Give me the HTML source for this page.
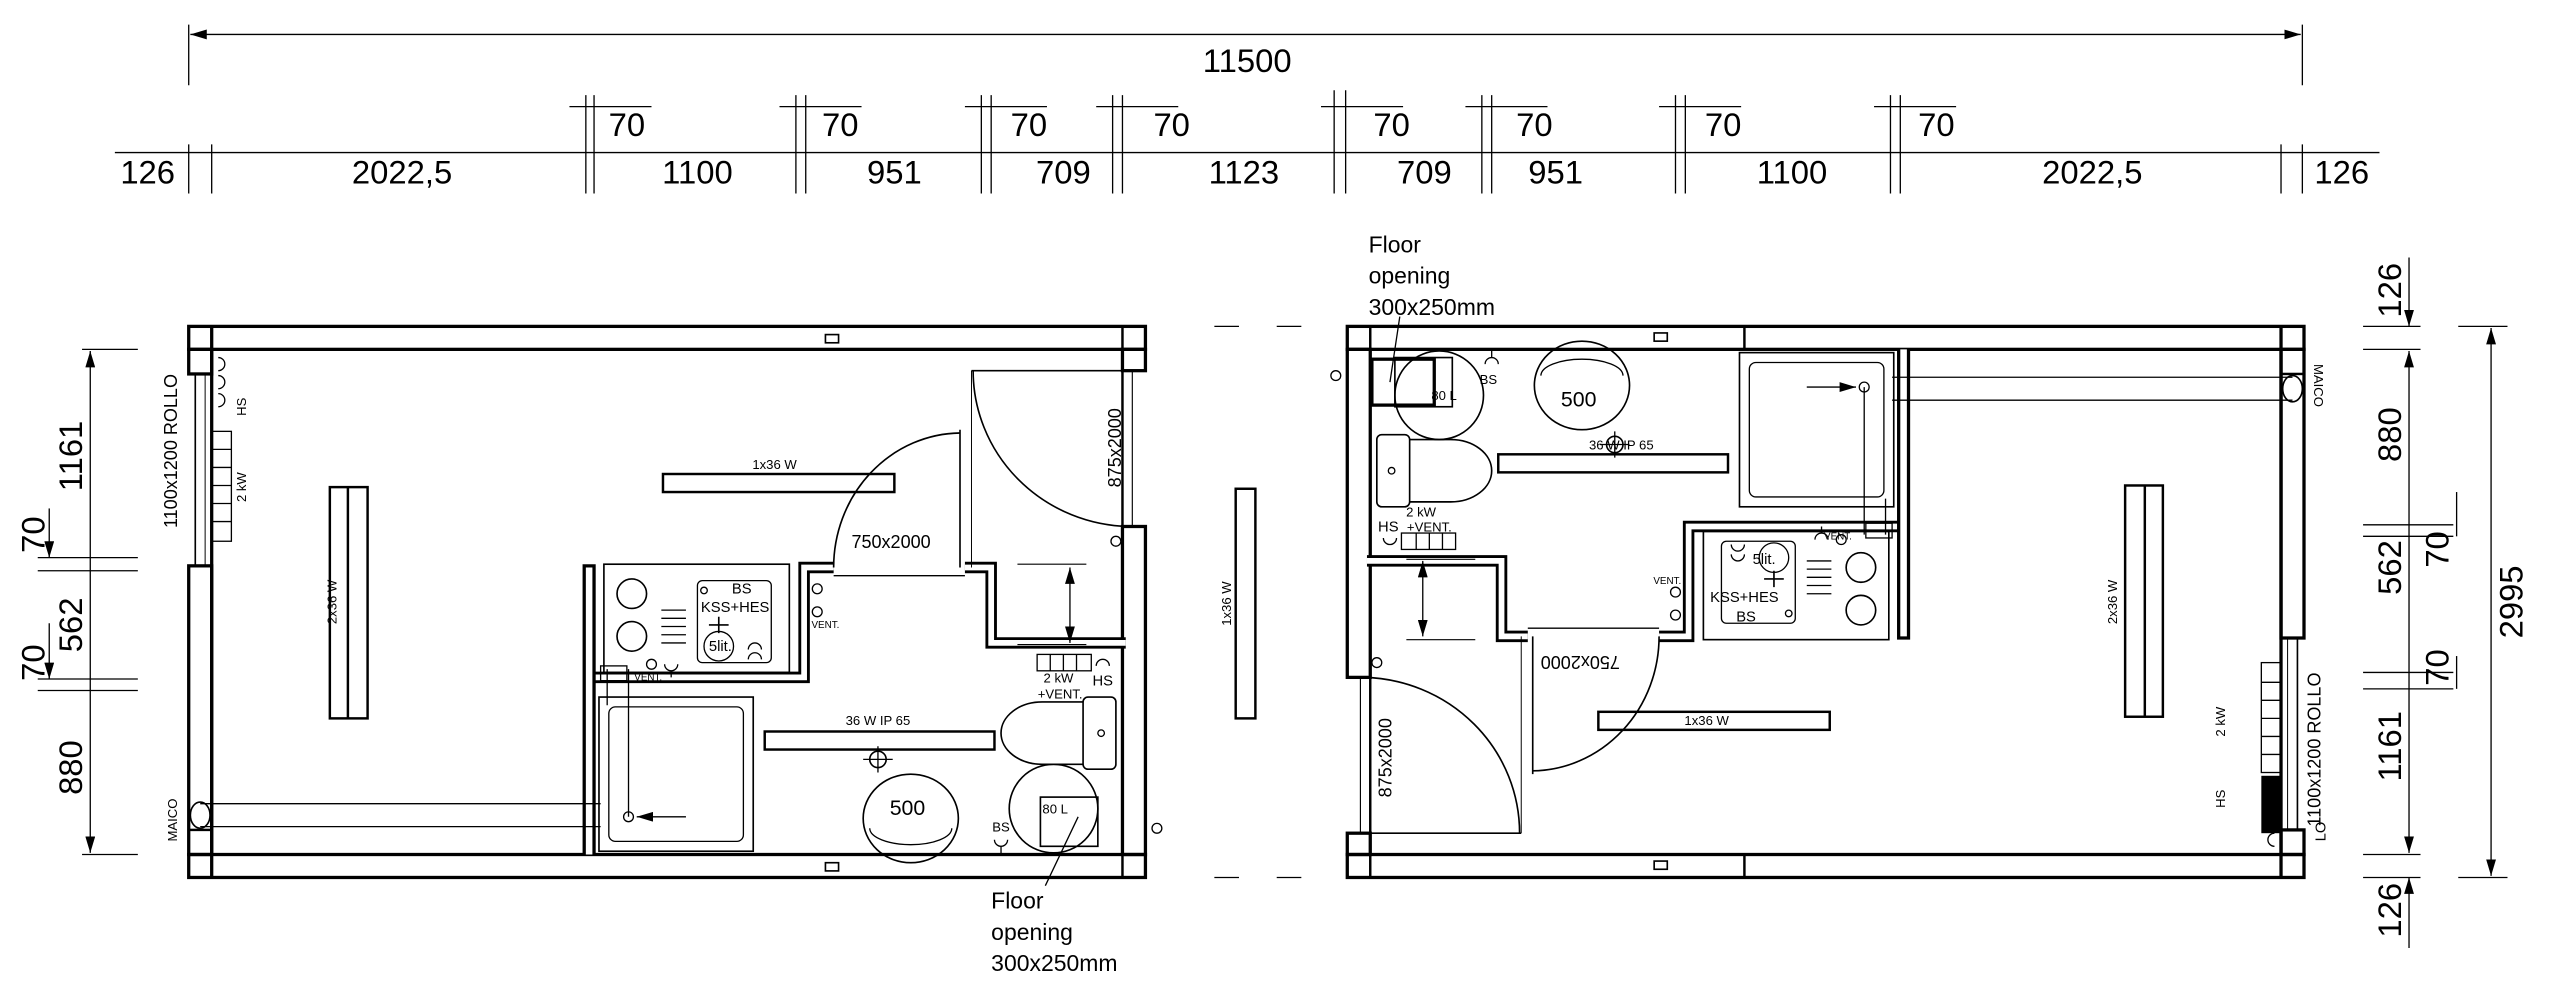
<!DOCTYPE html>
<html><head><meta charset="utf-8"><style>
html,body{margin:0;padding:0;background:#fff}
svg{display:block}
text{font-family:"Liberation Sans",sans-serif;fill:#000}
.d{font-size:20px;font-weight:300}
.s{font-size:8px}
.m{font-size:10px}
</style></head><body>
<svg width="2560" height="989" viewBox="0 0 1560 603" preserveAspectRatio="none" xmlns="http://www.w3.org/2000/svg">
<defs>
<marker id="a" viewBox="0 0 10 6" refX="10" refY="3" markerWidth="10" markerHeight="6" orient="auto-start-reverse" markerUnits="userSpaceOnUse"><path d="M0,0L10,3L0,6z"/></marker>
<g id="B" fill="none" stroke="#000">
 <!-- outer walls -->
 <rect x="115" y="199" width="583" height="14" stroke-width="2" fill="#fff"/>
 <rect x="115" y="521" width="583" height="14" stroke-width="2" fill="#fff"/>
 <rect x="115" y="213" width="14" height="15" stroke-width="2"/>
 <rect x="115" y="506" width="14" height="15" stroke-width="1.5"/>
 <line x1="129" y1="199" x2="129" y2="535" stroke-width="2"/>
 <line x1="684" y1="199" x2="684" y2="535" stroke-width="1.5"/>
 <rect x="115" y="345" width="14" height="176" stroke-width="2"/>
 <line x1="119" y1="228" x2="119" y2="345"/><line x1="125" y1="228" x2="125" y2="345" stroke-width="0.6"/>
 <rect x="684" y="213" width="14" height="13" stroke-width="2"/>
 <rect x="684" y="321" width="14" height="200" stroke-width="2"/>
 <line x1="690" y1="226" x2="690" y2="321" stroke-width="0.7"/>
 <rect x="503" y="204" width="8" height="5" stroke-width="1"/>
 <rect x="503" y="526" width="8" height="5" stroke-width="1"/>
 <!-- interior walls -->
 <polyline points="359,521 359,344" stroke-width="8"/><polyline points="359,521 359,346" stroke="#fff" stroke-width="4"/>
 <polyline points="362,413 490,413 490,346 508,346" stroke-width="7"/>
 <polyline points="363,413 490,413 490,346 508,346" stroke="#fff" stroke-width="3.5"/>
 <polyline points="588,346 604,346 604,392 686,392" stroke-width="7"/>
 <polyline points="588,346 604,346 604,392 686,392" stroke="#fff" stroke-width="3.5"/>
 <line x1="508" y1="351" x2="588" y2="351" stroke-width="0.8"/>
 <!-- doors -->
 <line x1="585" y1="262" x2="585" y2="346" stroke-width="1"/>
 <path d="M585,264 A78,82 0 0 0 508,346" stroke-width="1"/>
 <line x1="592" y1="226" x2="690" y2="226" stroke-width="1"/>
 <line x1="592" y1="226" x2="592" y2="346" stroke-width="0.6"/>
 <path d="M593,226 A97,95 0 0 0 688,321" stroke-width="1"/>
 <!-- kitchen -->
 <rect x="368" y="344" width="113" height="66" stroke-width="1"/>
 <circle cx="385" cy="362" r="9"/><circle cx="385" cy="388" r="9"/>
 <path d="M403,372h15M403,377h15M403,382h15M403,387h15M403,392h15" stroke-width="0.8"/>
 <rect x="425" y="354" width="45" height="50" rx="3" stroke-width="0.8"/>
 <circle cx="438" cy="394" r="9" stroke-width="0.8"/>
 <path d="M432,381h12M438,376v10"/>
 <circle cx="429" cy="360" r="2" stroke-width="0.8"/>
 <path d="M456,396 a4,4 0 0 1 8,0 M456,402 a4,4 0 0 1 8,0" stroke-width="0.8"/>
 <path d="M405,405 a4,4 0 0 0 8,0 M409,409 v4" stroke-width="0.8"/>
 <circle cx="397" cy="405" r="3" stroke-width="0.8"/>
 <circle cx="498" cy="359" r="3" stroke-width="0.8"/><circle cx="498" cy="373" r="3" stroke-width="0.8"/>
 <!-- lights -->
 <rect x="404" y="289" width="141" height="11" stroke-width="1.5"/>
 <rect x="201" y="297" width="23" height="141" stroke-width="1.5"/><line x1="212" y1="297" x2="212" y2="438" stroke-width="1.5"/>
 <rect x="466" y="446" width="140" height="11" stroke-width="1.5"/>
 <circle cx="535" cy="463" r="5"/><path d="M526,463h18M535,455v16" stroke-width="0.8"/>
 <!-- bathroom -->
 <rect x="365" y="425" width="94" height="94" stroke-width="1"/>
 <rect x="371" y="431" width="82" height="82" rx="4" stroke-width="0.8"/>
 <path d="M122,490H366M122,504H366" stroke-width="0.8"/>
 <ellipse cx="122" cy="497" rx="6" ry="8" stroke-width="1"/>
 <rect x="366" y="406" width="16" height="9" stroke-width="0.8"/>
 <path d="M383,408V498M370,408V430" stroke-width="0.8"/>
 <circle cx="383" cy="498" r="3" stroke-width="0.8"/>
 <line x1="418" y1="498" x2="388" y2="498" stroke-width="0.8" marker-end="url(#a)"/>
 <rect x="660" y="425" width="20" height="44" rx="3" stroke-width="1"/>
 <circle cx="671" cy="447" r="2" stroke-width="0.8"/>
 <path d="M660,428 H635 A25,19 0 0 0 635,466 H660" stroke-width="1"/>
 <ellipse cx="555" cy="499" rx="29" ry="27" stroke-width="1"/>
 <path d="M530,505 A25,10 0 0 0 580,505" stroke-width="0.8"/>
 <circle cx="642" cy="493" r="27" stroke-width="1"/>
 <rect x="634" y="486" width="35" height="30" stroke-width="1"/>
 <path d="M606,512 a4,4 0 0 0 8,0 M610,516 v5" stroke-width="0.8"/>
 <rect x="632" y="399" width="33" height="10" stroke-width="0.8"/><path d="M640,399v10M648,399v10M656,399v10" stroke-width="0.8"/>
 <path d="M668,406 a4,4 0 0 1 8,0" stroke-width="0.8"/>
 <circle cx="680" cy="330" r="3" stroke-width="0.8"/><circle cx="705" cy="505" r="3" stroke-width="0.8"/>
 <!-- left wall items -->
 <path d="M133,218a4,4 0 0 1 0,8M133,229a4,4 0 0 1 0,8M133,240a4,4 0 0 1 0,8" stroke-width="0.8"/>
 <rect x="129" y="263" width="12" height="67" stroke-width="0.8"/>
 <path d="M129,274h12M129,285h12M129,296h12M129,307h12M129,318h12" stroke-width="0.8"/>
 <!-- 412 dim -->
 <path d="M620,344H662M620,393H662" stroke-width="0.7"/>
 <line x1="652" y1="346" x2="652" y2="392" stroke-width="0.8" marker-start="url(#a)" marker-end="url(#a)"/>
</g>
</defs>

<use href="#B"/>
<use href="#B" transform="matrix(-1 0 0 -1 1519 734)"/>
<!-- right building top wall split + window block -->
<line x1="1063" y1="199" x2="1063" y2="213" stroke="#000" stroke-width="1.5"/>
<line x1="1063" y1="521" x2="1063" y2="535" stroke="#000" stroke-width="1.5"/>
<rect x="1378" y="473" width="12" height="35" fill="#000"/>
<rect x="836" y="219" width="38" height="28" fill="none" stroke="#000" stroke-width="2"/>

<!-- between-building light -->
<rect x="753" y="298" width="12" height="140" fill="none" stroke="#000" stroke-width="1.5"/>
<!-- dashed ext lines -->
<g stroke="#000" stroke-width="0.8"><path d="M740,199h15M778,199h15M740,535h15M778,535h15"/></g>

<!-- top dimensions -->
<g stroke="#000" stroke-width="0.8" fill="none">
 <line x1="116" y1="21" x2="1402" y2="21" marker-start="url(#a)" marker-end="url(#a)"/>
 <path d="M115,15V52M1403,15V52"/>
 <line x1="70" y1="93" x2="1450" y2="93"/>
 <path d="M115,88V118M129,88V118M357,58V118M362,58V118M485,58V118M491,58V118M598,58V118M604,58V118M678,58V118M684,58V118M813,55V118M820,55V118M903,58V118M909,58V118M1021,58V118M1027,58V118M1152,58V118M1158,58V118M1390,88V118M1403,88V118"/>
 <path d="M347,65H397M475,65H525M588,65H638M668,65H718M805,65H855M893,65H943M1011,65H1061M1142,65H1192"/>
</g>
<g font-size="20" class="d" text-anchor="middle">
 <text x="760" y="44">11500</text>
 <text x="90" y="112">126</text><text x="245" y="112">2022,5</text><text x="425" y="112">1100</text>
 <text x="545" y="112">951</text><text x="648" y="112">709</text><text x="758" y="112">1123</text>
 <text x="868" y="112">709</text><text x="948" y="112">951</text><text x="1092" y="112">1100</text>
 <text x="1275" y="112">2022,5</text><text x="1427" y="112">126</text>
 <text x="382" y="83">70</text><text x="512" y="83">70</text><text x="627" y="83">70</text><text x="714" y="83">70</text>
 <text x="848" y="83">70</text><text x="935" y="83">70</text><text x="1050" y="83">70</text><text x="1180" y="83">70</text>
</g>

<!-- left dims -->
<g stroke="#000" stroke-width="0.8" fill="none">
 <path d="M50,213H84M23,340H84M23,348H84M23,414H84M23,421H84M50,521H84"/>
 <line x1="55" y1="214" x2="55" y2="520" marker-start="url(#a)" marker-end="url(#a)"/>
 <line x1="30" y1="310" x2="30" y2="340" marker-end="url(#a)"/><line x1="30" y1="380" x2="30" y2="414" marker-end="url(#a)"/>
</g>
<g class="d" text-anchor="middle">
 <text transform="translate(50,278) rotate(-90)">1161</text>
 <text transform="translate(27,326) rotate(-90)">70</text>
 <text transform="translate(50,381) rotate(-90)">562</text>
 <text transform="translate(27,404) rotate(-90)">70</text>
 <text transform="translate(50,468) rotate(-90)">880</text>
</g>
<!-- right dims -->
<g stroke="#000" stroke-width="0.8" fill="none">
 <path d="M1440,199H1475M1440,213H1475M1440,320H1495M1440,327H1495M1440,410H1495M1440,420H1495M1440,521H1475M1440,535H1475M1498,199H1528M1498,535H1528"/>
 <line x1="1468" y1="157" x2="1468" y2="199" marker-end="url(#a)"/>
 <line x1="1468" y1="214" x2="1468" y2="520" marker-start="url(#a)" marker-end="url(#a)"/>
 <line x1="1468" y1="578" x2="1468" y2="535" marker-end="url(#a)"/>
 <line x1="1518" y1="200" x2="1518" y2="534" marker-start="url(#a)" marker-end="url(#a)"/>
 <line x1="1497" y1="300" x2="1497" y2="327"/><line x1="1497" y1="400" x2="1497" y2="420"/>
</g>
<g class="d" text-anchor="middle">
 <text transform="translate(1463,177) rotate(-90)">126</text>
 <text transform="translate(1463,265) rotate(-90)">880</text>
 <text transform="translate(1463,346) rotate(-90)">562</text>
 <text transform="translate(1492,335) rotate(-90)">70</text>
 <text transform="translate(1492,407) rotate(-90)">70</text>
 <text transform="translate(1463,455) rotate(-90)">1161</text>
 <text transform="translate(1463,555) rotate(-90)">126</text>
 <text transform="translate(1537,367) rotate(-90)">2995</text>
</g>

<!-- left labels -->
<g class="s" text-anchor="middle">
 <text x="472" y="286">1x36 W</text>
 <text transform="translate(205,367) rotate(-90)">2x36 W</text>
 <text transform="translate(750,368) rotate(-90)">1x36 W</text>
 <text transform="translate(150,297) rotate(-90)">2 kW</text>
 <text transform="translate(150,248) rotate(-90)">HS</text>
 <text transform="translate(108,500) rotate(-90)">MAICO</text>
 <text x="535" y="442">36 W IP 65</text>
 <text x="645" y="416">2 kW</text><text x="646" y="426">+VENT.</text>
 <text x="672" y="418" font-size="9">HS</text>
 <text x="610" y="507">BS</text>
 <text x="503" y="383" font-size="6">VENT.</text>
 <text x="395" y="415" font-size="6">VENT.</text>
 <text x="452" y="362" font-size="9">BS</text>
 <text x="448" y="373" font-size="9">KSS+HES</text>
 <text x="439" y="397" font-size="9">5lit.</text>
 <text x="643" y="496">80 L</text>
</g>
<text x="553" y="497" font-size="13" text-anchor="middle">500</text>
<text x="543" y="334" font-size="11" text-anchor="middle">750x2000</text>
<text transform="translate(683,273) rotate(-90)" font-size="11" text-anchor="middle">875x2000</text>
<text transform="translate(108,275) rotate(-90)" font-size="11" text-anchor="middle">1100x1200 ROLLO</text>
<line x1="657" y1="498" x2="637" y2="540" stroke="#000" stroke-width="0.8"/>
<g font-size="14"><text x="604" y="554">Floor</text><text x="604" y="573">opening</text><text x="604" y="592">300x250mm</text></g>

<!-- right labels -->
<line x1="853" y1="193" x2="847" y2="233" stroke="#000" stroke-width="0.8"/>
<g font-size="14"><text x="834" y="154">Floor</text><text x="834" y="173">opening</text><text x="834" y="192">300x250mm</text></g>
<g class="s" text-anchor="middle">
 <text x="880" y="244">80 L</text>
 <text x="907" y="234">BS</text>
 <text x="988" y="274">36 W IP 65</text>
 <text x="866" y="315">2 kW</text><text x="871" y="324">+VENT.</text>
 <text x="846" y="324" font-size="9">HS</text>
 <text x="1016" y="356" font-size="6">VENT.</text>
 <text x="1120" y="329" font-size="6">VENT.</text>
 <text x="1063" y="367" font-size="9">KSS+HES</text>
 <text x="1064" y="379" font-size="9">BS</text>
 <text x="1075" y="344" font-size="9">5lit.</text>
 <text x="1040" y="442">1x36 W</text>
 <text transform="translate(1290,367) rotate(-90)">2x36 W</text>
 <text transform="translate(1356,440) rotate(-90)">2 kW</text>
 <text transform="translate(1356,487) rotate(-90)">HS</text>
 <text transform="translate(1410,235) rotate(90)">MAICO</text>
</g>
<text x="962" y="248" font-size="13" text-anchor="middle">500</text>
<text transform="translate(963,400) rotate(180)" font-size="11" text-anchor="middle">750x2000</text>
<text transform="translate(848,462) rotate(-90)" font-size="11" text-anchor="middle">875x2000</text>
<text transform="translate(1414,457) rotate(-90)" font-size="11" text-anchor="middle">1100x1200 ROLLO</text>
<text transform="translate(1417,507) rotate(-90)" font-size="9" text-anchor="middle">LO</text>
</svg>
</body></html>
